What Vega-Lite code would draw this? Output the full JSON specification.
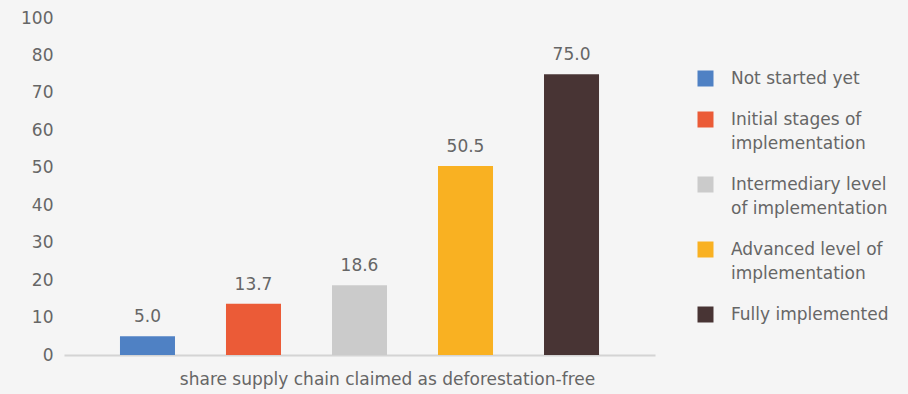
{
  "$schema": "https://vega.github.io/schema/vega-lite/v6.json",
  "width": 591,
  "height": 337,
  "autosize": "none",
  "padding": {"left": 64, "top": 18, "right": 253, "bottom": 39},
  "background": "#F5F5F5",
  "config": {
    "view": {"stroke": null},
    "font": "DejaVu Sans",
    "text": {"font": "DejaVu Sans"},
    "style": {"guide-label": {"lineHeight": 24}}
  },
  "data": {
    "values": [
      {"stage": "Not started yet", "share": 5.0},
      {"stage": "Initial stages of implementation", "share": 13.7},
      {"stage": "Intermediary level of implementation", "share": 18.6},
      {"stage": "Advanced level of implementation", "share": 50.5},
      {"stage": "Fully implemented", "share": 75.0}
    ]
  },
  "encoding": {
    "x": {
      "field": "stage",
      "type": "nominal",
      "sort": null,
      "scale": {"paddingInner": 0.481, "paddingOuter": 0.528},
      "axis": {
        "title": "share supply chain claimed as deforestation-free",
        "labels": false,
        "ticks": false,
        "domainColor": "#D4D4D4",
        "domainWidth": 2,
        "titleFont": "DejaVu Sans",
        "titleFontSize": 17,
        "titleFontWeight": "normal",
        "titleColor": "#666666",
        "titlePadding": 16,
        "titleX": 323
      }
    },
    "y": {
      "field": "share",
      "type": "quantitative",
      "scale": {"domain": [0, 90], "nice": false},
      "axis": {
        "title": null,
        "values": [0, 10, 20, 30, 40, 50, 60, 70, 80, 90],
        "labelExpr": "datum.value == 90 ? '100' : datum.label",
        "grid": false,
        "domain": false,
        "ticks": false,
        "labelFont": "DejaVu Sans",
        "labelFontSize": 17,
        "labelColor": "#666666",
        "labelPadding": 11
      }
    }
  },
  "layer": [
    {
      "mark": {"type": "bar"},
      "encoding": {
        "color": {
          "field": "stage",
          "type": "nominal",
          "sort": null,
          "scale": {
            "domain": ["Not started yet", "Initial stages of implementation", "Intermediary level of implementation", "Advanced level of implementation", "Fully implemented"],
            "range": ["#4F81C4", "#EB5B37", "#CBCBCB", "#F9B122", "#483434"]
          },
          "legend": {
            "title": null,
            "orient": "none",
            "legendX": 633,
            "legendY": 52,
            "padding": 0,
            "symbolType": "square",
            "symbolSize": 256,
            "symbolStrokeWidth": 0,
            "labelOffset": 17,
            "labelFont": "DejaVu Sans",
            "labelFontSize": 17,
            "labelColor": "#666666",
            "labelLimit": 300,
            "rowPadding": 23,
            "labelExpr": "datum.label == 'Initial stages of implementation' ? ['Initial stages of', 'implementation'] : datum.label == 'Intermediary level of implementation' ? ['Intermediary level', 'of implementation'] : datum.label == 'Advanced level of implementation' ? ['Advanced level of', 'implementation'] : datum.label"
          }
        }
      }
    },
    {
      "mark": {"type": "text", "baseline": "bottom", "dy": -10, "fontSize": 17, "color": "#666666", "font": "DejaVu Sans"},
      "encoding": {
        "text": {"field": "share", "type": "quantitative", "format": ".1f"}
      }
    }
  ]
}
